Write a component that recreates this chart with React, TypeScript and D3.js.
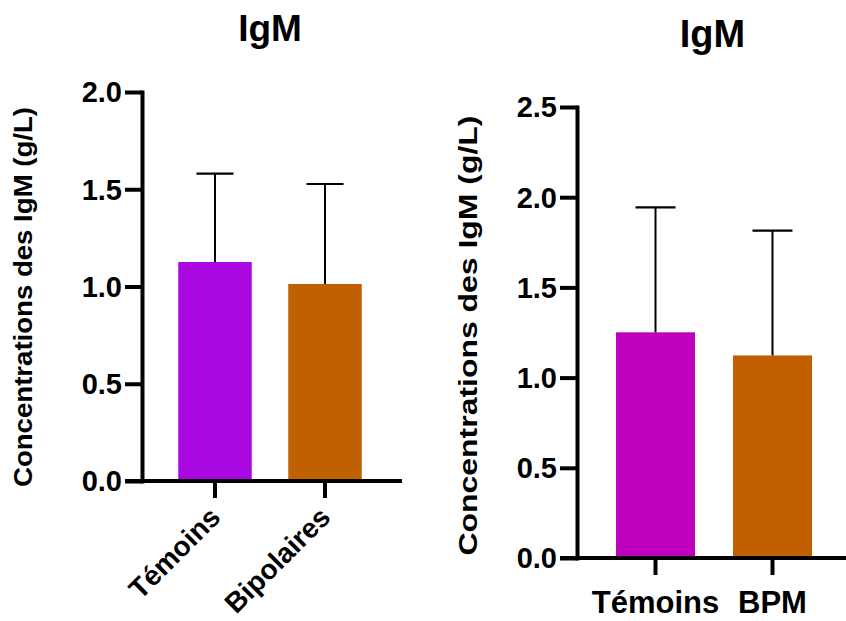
import React, { useEffect, useRef } from 'react';
import * as d3 from 'd3';

// Left panel
const leftCategories = ['Témoins', 'Bipolaires'];
const leftMeans = [1.126, 1.013];
const leftSD = [0.454, 0.514];
const leftTicks = [0, 0.5, 1.0, 1.5, 2.0];
const leftColors = ['#AA08E0', '#C06000'];

// Right panel
const rightCategories = ['Témoins', 'BPM'];
const rightMeans = [1.251, 1.123];
const rightSD = [0.693, 0.692];
const rightTicks = [0, 0.5, 1.0, 1.5, 2.0, 2.5];
const rightColors = ['#BE00BE', '#C06000'];

const title = 'IgM';
const yLabel = 'Concentrations des IgM (g/L)';
const FONT = '"Liberation Sans", Arial, sans-serif';

interface PanelOpts {
  categories: string[];
  means: number[];
  sd: number[];
  ticks: number[];
  colors: string[];
  axisX: number;
  yTop: number;
  yBottom: number;
  xRange: [number, number];
  xEnd: number;
  padding: number;
  tickFont: number;
  titleX: number;
  titleY: number;
  titleFont: number;
  labelX: number;
  labelY: number;
  labelLen: number;
  rotateCats: boolean;
  catFont: number;
  catY: number;
  capHalf: number;
}

function drawPanel(g: d3.Selection<SVGGElement, unknown, null, undefined>, o: PanelOpts) {
  const max = o.ticks[o.ticks.length - 1];
  const y = d3.scaleLinear().domain([0, max]).range([o.yBottom, o.yTop]);
  const x = d3.scaleBand<string>().domain(o.categories).range(o.xRange)
    .paddingInner(o.padding).paddingOuter(o.padding / 2);

  // bars
  g.selectAll('.bar')
    .data(o.means)
    .enter()
    .append('rect')
    .attr('x', (d, i) => x(o.categories[i]) as number)
    .attr('y', d => y(d))
    .attr('width', x.bandwidth())
    .attr('height', d => y(0) - y(d))
    .attr('fill', (d, i) => o.colors[i]);

  // error bars (upper only)
  o.means.forEach((m, i) => {
    const cx = (x(o.categories[i]) as number) + x.bandwidth() / 2;
    g.append('line')
      .attr('x1', cx).attr('x2', cx)
      .attr('y1', y(m)).attr('y2', y(m + o.sd[i]))
      .attr('stroke', '#000').attr('stroke-width', 2);
    g.append('line')
      .attr('x1', cx - o.capHalf).attr('x2', cx + o.capHalf)
      .attr('y1', y(m + o.sd[i])).attr('y2', y(m + o.sd[i]))
      .attr('stroke', '#000').attr('stroke-width', 2.2);
  });

  // y axis
  const yAxis = g.append('g')
    .attr('transform', `translate(${o.axisX},0)`)
    .call(d3.axisLeft(y).tickValues(o.ticks).tickFormat(d3.format('.1f'))
      .tickSize(17).tickSizeOuter(0).tickPadding(3));
  yAxis.select('.domain').attr('stroke', '#000').attr('stroke-width', 4)
    .attr('stroke-linecap', 'square');
  yAxis.selectAll('.tick line').attr('stroke', '#000').attr('stroke-width', 4);
  yAxis.selectAll('.tick text')
    .attr('font-family', FONT).attr('font-weight', 'bold')
    .attr('font-size', o.tickFont).attr('fill', '#000')
    .attr('dy', '0.34em');

  // x axis
  g.append('line')
    .attr('x1', o.axisX - 17).attr('x2', o.xEnd)
    .attr('y1', y(0)).attr('y2', y(0))
    .attr('stroke', '#000').attr('stroke-width', 4);
  const xAxis = g.append('g')
    .attr('transform', `translate(0,${y(0)})`)
    .call(d3.axisBottom(x).tickSize(17).tickSizeOuter(0).tickFormat(() => ''));
  xAxis.select('.domain').remove();
  xAxis.selectAll('.tick line').attr('stroke', '#000').attr('stroke-width', 4);

  // category labels
  o.categories.forEach(c => {
    const cx = (x(c) as number) + x.bandwidth() / 2;
    const t = g.append('text')
      .text(c)
      .attr('font-family', FONT).attr('font-weight', 'bold')
      .attr('font-size', o.catFont).attr('fill', '#000');
    if (o.rotateCats) {
      t.attr('text-anchor', 'end')
        .attr('transform', `translate(${cx + 7},${o.catY}) rotate(-45)`);
    } else {
      t.attr('text-anchor', 'middle').attr('x', cx).attr('y', o.catY);
    }
  });

  // title
  g.append('text')
    .text(title)
    .attr('x', o.titleX).attr('y', o.titleY)
    .attr('text-anchor', 'middle')
    .attr('font-family', FONT).attr('font-weight', 'bold')
    .attr('font-size', o.titleFont).attr('fill', '#000');

  // y label
  g.append('text')
    .text(yLabel)
    .attr('transform', `translate(${o.labelX},${o.labelY}) rotate(-90)`)
    .attr('text-anchor', 'middle')
    .attr('textLength', o.labelLen)
    .attr('lengthAdjust', 'spacingAndGlyphs')
    .attr('font-family', FONT).attr('font-weight', 'bold')
    .attr('font-size', 26).attr('fill', '#000');
}

export default function App() {
  const svgRef = useRef<SVGSVGElement>(null);

  useEffect(() => {
    if (!svgRef.current) return;
    const svg = d3.select(svgRef.current);
    svg.selectAll('*').remove();

    drawPanel(svg.append('g'), {
      categories: leftCategories, means: leftMeans, sd: leftSD,
      ticks: leftTicks, colors: leftColors,
      axisX: 142, yTop: 92, yBottom: 481,
      xRange: [160, 380], xEnd: 402, padding: 0.332,
      tickFont: 29,
      titleX: 270, titleY: 41, titleFont: 37,
      labelX: 32, labelY: 297, labelLen: 380,
      rotateCats: true, catFont: 28, catY: 519,
      capHalf: 18.5,
    });

    drawPanel(svg.append('g'), {
      categories: rightCategories, means: rightMeans, sd: rightSD,
      ticks: rightTicks, colors: rightColors,
      axisX: 577, yTop: 107, yBottom: 558,
      xRange: [597, 831], xEnd: 846, padding: 0.325,
      tickFont: 29,
      titleX: 712.5, titleY: 47, titleFont: 38,
      labelX: 477, labelY: 335.5, labelLen: 440,
      rotateCats: false, catFont: 31, catY: 613,
      capHalf: 20,
    });
  }, []);

  return (
    <div style={{ position: 'absolute', left: 0, top: 0, width: 846, height: 621, background: '#fff' }}>
      <svg ref={svgRef} width={846} height={621} style={{ display: 'block' }} />
    </div>
  );
}
